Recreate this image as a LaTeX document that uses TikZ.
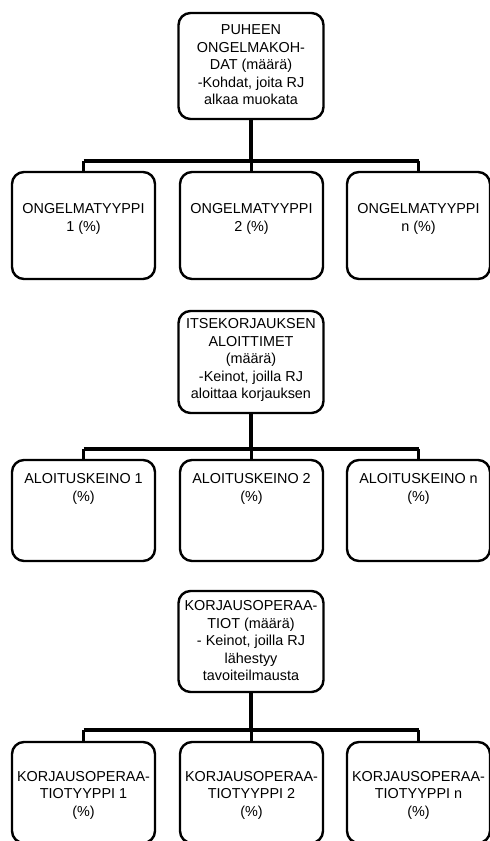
\documentclass[tikz,border=0pt]{standalone}
\usepackage{fontspec}
\setmainfont{Liberation Sans}
\begin{document}
\begin{tikzpicture}[x=1pt,y=-1pt,
  box/.style={draw, line width=2.4pt, rounded corners=12pt, inner sep=0pt, minimum width=143pt},
  txt/.style={font=\fontsize{14.4}{17.5}\selectfont, align=center, inner sep=0pt},
  conn/.style={line width=3.5pt},
  drop/.style={line width=3pt}]
\useasboundingbox (0,0) rectangle (490,841);
\clip (0,0) rectangle (490,841);
% group 1
\node[box, minimum width=145pt, minimum height=106pt] (p1) at (251,66) {};
\node[txt] (tp1) at (251,65) {PUHEEN\\ONGELMAKOH-\\DAT (määrä)\\-Kohdat, joita RJ\\alkaa muokata};
\node[box, minimum height=107pt] (a1) at (83.5,225.5) {};
\node[box, minimum height=107pt] (a2) at (251.5,225.5) {};
\node[box, minimum height=107pt] (a3) at (418.5,225.5) {};
\node[txt] (ta1) at (83.5,219) {ONGELMATYYPPI\\1 (\%)};
\node[txt] (ta2) at (251.5,219) {ONGELMATYYPPI\\2 (\%)};
\node[txt] (ta3) at (418.5,219) {ONGELMATYYPPI\\n (\%)};
\coordinate (b1) at (251,161);
\draw[conn] (p1.south) -- (b1);
\draw[conn] (a1.north |- b1) -- (a3.north |- b1);
\draw[drop] (a1.north) -- (a1.north |- b1);
\draw[drop] (a2.north) -- (a2.north |- b1);
\draw[drop] (a3.north) -- (a3.north |- b1);
% group 2
\node[box, minimum width=145pt, minimum height=102pt] (p2) at (251,362) {};
\node[txt] (tp2) at (251,360) {ITSEKORJAUKSEN\\ALOITTIMET\\(määrä)\\-Keinot, joilla RJ\\aloittaa korjauksen};
\node[box, minimum height=101pt] (c1) at (83.5,510.5) {};
\node[box, minimum height=101pt] (c2) at (251.5,510.5) {};
\node[box, minimum height=101pt] (c3) at (418.5,510.5) {};
\node[txt] (tc1) at (83.5,489) {ALOITUSKEINO 1\\(\%)};
\node[txt] (tc2) at (251.5,489) {ALOITUSKEINO 2\\(\%)};
\node[txt] (tc3) at (418.5,489) {ALOITUSKEINO n\\(\%)};
\coordinate (b2) at (251,449);
\draw[conn] (p2.south) -- (b2);
\draw[conn] (c1.north |- b2) -- (c3.north |- b2);
\draw[drop] (c1.north) -- (c1.north |- b2);
\draw[drop] (c2.north) -- (c2.north |- b2);
\draw[drop] (c3.north) -- (c3.north |- b2);
% group 3
\node[box, minimum width=145pt, minimum height=101pt] (p3) at (251,641.5) {};
\node[txt] (tp3) at (251,641) {KORJAUSOPERAA-\\TIOT (määrä)\\- Keinot, joilla RJ\\lähestyy\\tavoiteilmausta};
\node[box, minimum height=101pt] (d1) at (83.5,792.5) {};
\node[box, minimum height=101pt] (d2) at (251.5,792.5) {};
\node[box, minimum height=101pt] (d3) at (418.5,792.5) {};
\node[txt] (td1) at (83.5,795) {KORJAUSOPERAA-\\TIOTYYPPI 1\\(\%)};
\node[txt] (td2) at (251.5,795) {KORJAUSOPERAA-\\TIOTYYPPI 2\\(\%)};
\node[txt] (td3) at (418.5,795) {KORJAUSOPERAA-\\TIOTYYPPI n\\(\%)};
\coordinate (b3) at (251,730);
\draw[conn] (p3.south) -- (b3);
\draw[conn] (d1.north |- b3) -- (d3.north |- b3);
\draw[drop] (d1.north) -- (d1.north |- b3);
\draw[drop] (d2.north) -- (d2.north |- b3);
\draw[drop] (d3.north) -- (d3.north |- b3);
\end{tikzpicture}
\end{document}
